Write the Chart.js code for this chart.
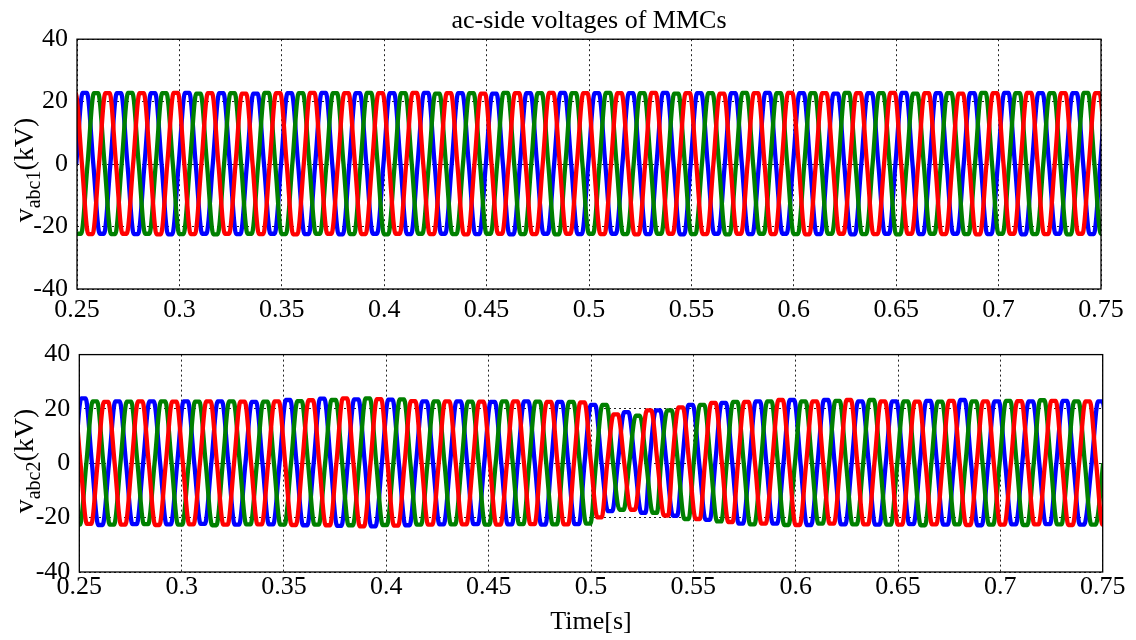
<!DOCTYPE html>
<html>
<head>
<meta charset="utf-8">
<script src="https://cdn.jsdelivr.net/npm/chart.js@4.4.1/dist/chart.umd.min.js"></script>
<style>
  html, body { margin: 0; padding: 0; background: #fff; }
  #wrap { position: relative; width: 1136px; height: 640px; }
  canvas { position: absolute; left: 0; }
  #topChart { top: 0; }
  #bottomChart { top: 330px; }
</style>
</head>
<body>
<div id="wrap">
  <canvas id="topChart" width="1136" height="330"></canvas>
  <canvas id="bottomChart" width="1136" height="310"></canvas>
</div>
<script>
// grid frequency (Hz) and tick labels
const FREQ = 60;
const xTicks = [0.25, 0.3, 0.35, 0.4, 0.45, 0.5, 0.55, 0.6, 0.65, 0.7, 0.75];
const xTickLabels = ["0.25", "0.3", "0.35", "0.4", "0.45", "0.5", "0.55", "0.6", "0.65", "0.7", "0.75"];
const yTicks = [-40, -20, 0, 20, 40];
const yTickLabels = ["-40", "-20", "0", "20", "40"];

// time of the first positive peak of phase a, b, c (blue, green, red), cycle k = 0
const vabc1FirstPeak = [0.2538, 0.2593, 0.2649];
const vabc2FirstPeak = [0.2520, 0.2576, 0.2631];

// peak / trough per cycle (k = -1 .. 30), kV
const vabc1_aPeaks = [22.7, 22.8, 22.7, 22.7, 22.8, 22.7, 22.6, 22.7, 22.8, 22.7, 22.7, 22.8, 22.7, 22.6, 22.7, 22.8, 22.7, 22.7, 22.8, 22.7, 22.7, 22.8, 22.7, 22.6, 22.7, 22.8, 22.7, 22.7, 22.8, 22.7, 22.7, 22.7];
const vabc1_aTroughs = [-22.4, -22.3, -22.4, -22.5, -22.3, -22.4, -22.3, -22.4, -22.5, -22.3, -22.4, -22.3, -22.4, -22.5, -22.3, -22.4, -22.3, -22.4, -22.5, -22.3, -22.4, -22.3, -22.4, -22.5, -22.3, -22.4, -22.3, -22.4, -22.5, -22.3, -22.4, -22.4];
const vabc1_bPeaks = [22.7, 22.7, 22.8, 22.7, 22.6, 22.7, 22.8, 22.7, 22.7, 22.8, 22.7, 22.6, 22.7, 22.8, 22.7, 22.7, 22.8, 22.7, 22.6, 22.7, 22.8, 22.7, 22.7, 22.8, 22.7, 22.6, 22.7, 22.8, 22.7, 22.7, 22.8, 22.7];
const vabc1_bTroughs = [-22.3, -22.4, -22.3, -22.4, -22.5, -22.3, -22.4, -22.3, -22.4, -22.5, -22.3, -22.4, -22.3, -22.4, -22.5, -22.3, -22.4, -22.3, -22.4, -22.5, -22.3, -22.4, -22.3, -22.4, -22.5, -22.3, -22.4, -22.3, -22.4, -22.5, -22.3, -22.4];
const vabc1_cPeaks = [22.8, 22.7, 22.7, 22.8, 22.7, 22.6, 22.7, 22.8, 22.7, 22.7, 22.8, 22.7, 22.6, 22.7, 22.8, 22.7, 22.7, 22.8, 22.7, 22.6, 22.7, 22.8, 22.7, 22.7, 22.8, 22.7, 22.6, 22.7, 22.8, 22.7, 22.7, 22.8];
const vabc1_cTroughs = [-22.4, -22.3, -22.5, -22.4, -22.3, -22.4, -22.5, -22.3, -22.4, -22.3, -22.4, -22.5, -22.3, -22.4, -22.3, -22.4, -22.5, -22.3, -22.4, -22.3, -22.4, -22.5, -22.3, -22.4, -22.3, -22.4, -22.5, -22.3, -22.4, -22.3, -22.4, -22.4];

const vabc2_aPeaks = [23.5, 23.9, 22.8, 22.8, 22.8, 22.8, 22.6, 23.3, 23.8, 23.5, 23.4, 22.8, 22.8, 22.6, 22.8, 22.6, 21.5, 18.8, 19.5, 21.5, 22.2, 22.8, 23.3, 23.3, 22.8, 22.8, 23.0, 23.3, 22.8, 22.8, 23.0, 22.8];
const vabc2_aTroughs = [-22.5, -22.7, -22.4, -22.5, -22.3, -22.6, -22.5, -22.8, -23.0, -23.2, -22.8, -22.5, -22.4, -22.5, -22.6, -22.4, -17.6, -18.2, -19.3, -20.8, -22.2, -22.2, -22.7, -22.5, -22.6, -22.4, -22.6, -22.8, -22.5, -22.4, -22.6, -22.5];
const vabc2_bPeaks = [22.8, 22.8, 22.7, 22.8, 22.7, 22.8, 22.7, 22.9, 23.3, 23.9, 23.5, 22.8, 22.7, 22.8, 22.7, 22.6, 21.5, 17.5, 19.5, 21.5, 22.6, 22.8, 22.8, 23.0, 23.3, 22.8, 22.7, 22.8, 23.0, 23.2, 22.8, 22.8];
const vabc2_bTroughs = [-22.6, -22.6, -22.4, -22.6, -22.8, -22.5, -22.6, -22.6, -22.8, -22.7, -22.6, -22.5, -22.6, -22.4, -22.5, -22.2, -17.1, -18.2, -20.5, -21.4, -22.5, -22.7, -22.2, -22.5, -22.6, -22.8, -22.5, -22.6, -22.7, -22.5, -22.6, -22.5];
const vabc2_cPeaks = [22.7, 22.6, 22.8, 22.7, 22.8, 22.7, 22.8, 23.2, 23.9, 23.6, 22.9, 22.8, 22.7, 22.8, 22.6, 22.4, 18.0, 19.5, 20.6, 22.2, 22.6, 23.3, 22.8, 23.3, 22.8, 22.7, 23.0, 22.8, 22.9, 23.0, 22.8, 22.8];
const vabc2_cTroughs = [-22.3, -22.6, -22.7, -22.5, -22.6, -22.5, -22.7, -22.8, -23.2, -22.9, -22.6, -22.5, -22.6, -22.4, -22.5, -19.9, -17.1, -19.2, -20.5, -21.6, -22.2, -22.7, -22.2, -22.5, -22.6, -22.5, -22.7, -22.6, -22.5, -22.7, -22.6, -22.5];

// phase drift of MMC2 around the disturbance, seconds per cycle
const vabc2_shift = [0, 0, 0, 0, 0, 0, 0, 0, 0, 0, 0, 0, 0, 0, -0.0003, -0.0006, -0.001, -0.0014, -0.0026, -0.0033, -0.0038, -0.0038, -0.0038, -0.0038, -0.0038, -0.0038, -0.0038, -0.0038, -0.0038, -0.0038, -0.0038, -0.0032];

const SERIF = '"Liberation Serif", "Times New Roman", serif';
const T = 1 / FREQ;
const FLAT = T / 16;

function phaseWave(firstPeak, peaks, troughs, shift) {
  const pts = [];
  for (let i = 0; i < peaks.length; i++) {
    const tp = firstPeak + (i - 1) * T + (shift ? shift[i] : 0);
    const tt = tp + T / 2;
    pts.push({ x: tp - T / 4, y: 0 });
    pts.push({ x: tp - FLAT, y: peaks[i] });
    pts.push({ x: tp + FLAT, y: peaks[i] });
    pts.push({ x: tp + T / 4, y: 0 });
    pts.push({ x: tt - FLAT, y: troughs[i] });
    pts.push({ x: tt + FLAT, y: troughs[i] });
  }
  return pts;
}

function line(label, data, color, order) {
  return {
    label, data, order,
    borderColor: color,
    borderWidth: 4.3,
    pointRadius: 0,
    fill: false,
    cubicInterpolationMode: "monotone",
    clip: 0
  };
}

// box round the plot area
const frame = {
  id: "frame",
  afterDraw(chart) {
    const a = chart.chartArea;
    const ctx = chart.ctx;
    ctx.save();
    ctx.strokeStyle = "#000";
    ctx.lineWidth = 1.3;
    ctx.strokeRect(a.left, a.top, a.right - a.left, a.bottom - a.top);
    ctx.restore();
  }
};

// rotated y label with subscript
const yLabel = {
  id: "yLabel",
  afterDraw(chart, args, o) {
    if (!o || !o.main) return;
    const ctx = chart.ctx;
    const big = "28px " + SERIF, small = "20px " + SERIF;
    ctx.save();
    ctx.translate(o.x, o.y);
    ctx.rotate(-Math.PI / 2);
    ctx.fillStyle = "#000";
    ctx.textBaseline = "alphabetic";
    ctx.font = big;
    const w1 = ctx.measureText(o.main).width;
    const w3 = ctx.measureText(o.tail).width;
    ctx.font = small;
    const w2 = ctx.measureText(o.sub).width;
    let x = -(w1 + w2 + w3) / 2;
    ctx.font = big;
    ctx.fillText(o.main, x, 0);
    x += w1;
    ctx.font = small;
    ctx.fillText(o.sub, x, 7);
    x += w2;
    ctx.font = big;
    ctx.fillText(o.tail, x, 0);
    ctx.restore();
  }
};

function makeOptions(cfg) {
  return {
    responsive: false,
    animation: false,
    events: [],
    layout: { padding: cfg.padding },
    plugins: {
      legend: { display: false },
      tooltip: { enabled: false },
      title: cfg.title ? {
        display: true,
        text: cfg.title,
        fullSize: false,
        color: "#000",
        font: { family: SERIF, size: 26, weight: "normal" },
        padding: { top: 6, bottom: 2 }
      } : { display: false },
      yLabel: cfg.yLabel
    },
    scales: {
      x: {
        type: "linear",
        min: 0.25,
        max: 0.75,
        afterBuildTicks: s => { s.ticks = xTicks.map(v => ({ value: v })); },
        afterFit: s => { s.height = cfg.xHeight; },
        grid: { color: "#222", lineWidth: 1, drawTicks: false },
        border: { display: false, dash: [2, 3] },
        ticks: {
          color: "#000",
          padding: cfg.xPad,
          maxRotation: 0,
          autoSkip: false,
          font: { family: SERIF, size: 26 },
          callback: (v, i) => xTickLabels[i]
        },
        title: cfg.xTitle ? {
          display: true,
          text: cfg.xTitle,
          color: "#000",
          font: { family: SERIF, size: 26 },
          padding: { top: 0, bottom: 2 }
        } : { display: false }
      },
      y: {
        min: -40,
        max: 40,
        afterBuildTicks: s => { s.ticks = yTicks.map(v => ({ value: v })); },
        afterFit: s => { s.width = cfg.yWidth; },
        grid: { color: "#222", lineWidth: 1, drawTicks: false },
        border: { display: false, dash: [2, 3] },
        ticks: {
          color: "#000",
          padding: 9,
          font: { family: SERIF, size: 26 },
          callback: (v, i) => yTickLabels[i]
        }
      }
    }
  };
}

new Chart(document.getElementById("topChart"), {
  type: "line",
  data: {
    datasets: [
      line("c", phaseWave(vabc1FirstPeak[2], vabc1_cPeaks, vabc1_cTroughs), "#ff0000", 0),
      line("b", phaseWave(vabc1FirstPeak[1], vabc1_bPeaks, vabc1_bTroughs), "#008000", 1),
      line("a", phaseWave(vabc1FirstPeak[0], vabc1_aPeaks, vabc1_aTroughs), "#0000ff", 2)
    ]
  },
  options: makeOptions({
    padding: { left: 0, right: 35, top: 0, bottom: 0 },
    title: "ac-side voltages of MMCs",
    yWidth: 77,
    xHeight: 41,
    xPad: 6,
    yLabel: { main: "v", sub: "abc1", tail: "(kV)", x: 33, y: 170 }
  }),
  plugins: [frame, yLabel]
});

new Chart(document.getElementById("bottomChart"), {
  type: "line",
  data: {
    datasets: [
      line("c", phaseWave(vabc2FirstPeak[2], vabc2_cPeaks, vabc2_cTroughs, vabc2_shift), "#ff0000", 0),
      line("b", phaseWave(vabc2FirstPeak[1], vabc2_bPeaks, vabc2_bTroughs, vabc2_shift), "#008000", 1),
      line("a", phaseWave(vabc2FirstPeak[0], vabc2_aPeaks, vabc2_aTroughs, vabc2_shift), "#0000ff", 2)
    ]
  },
  options: makeOptions({
    padding: { left: 0, right: 33.3, top: 7, bottom: 0 },
    yWidth: 79.3,
    xHeight: 68,
    xPad: 0,
    xTitle: "Time[s]",
    yLabel: { main: "v", sub: "abc2", tail: "(kV)", x: 33, y: 131 }
  }),
  plugins: [frame, yLabel]
});
</script>
</body>
</html>
